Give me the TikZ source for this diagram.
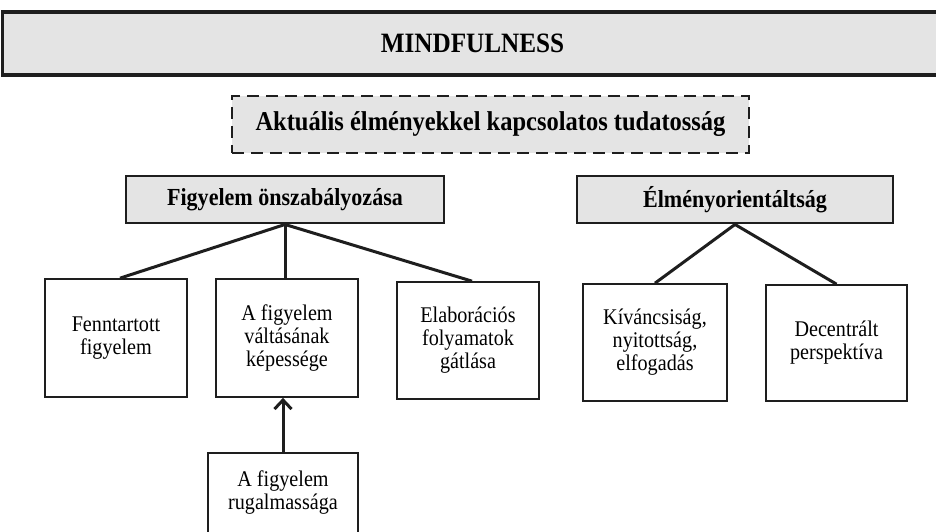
\documentclass[tikz,border=0pt]{standalone}
\usepackage{fontspec}
\setmainfont{Liberation Serif}[FakeStretch=0.9]
\usetikzlibrary{arrows.meta}
\definecolor{boxgray}{RGB}{228,228,228}
\definecolor{inkline}{RGB}{30,30,30}
\begin{document}
\begin{tikzpicture}[x=1pt,y=-1pt,
  plainbox/.style={draw=inkline, line width=1.7pt, fill=white, inner sep=0pt,
    align=center, font=\fontsize{22.4}{23}\selectfont},
  headbox/.style={draw=inkline, line width=2.9pt, fill=boxgray, inner sep=0pt,
    font=\bfseries\fontsize{24.5}{28}\selectfont},
  conn/.style={line width=3pt, draw=inkline}]
\useasboundingbox (0,0) rectangle (936,531);
\fill[white] (0,0) rectangle (936,531);
% banner
\node[headbox, line width=3.6pt, minimum width=940pt, minimum height=63pt,
  font=\bfseries\fontsize{28}{32}\selectfont] (banner) at (472.5,43.5) {MINDFULNESS};
% dashed box
\node[headbox, dash pattern=on 12pt off 7pt, minimum width=517pt, minimum height=57pt,
  font=\bfseries\fontsize{27.2}{31}\selectfont] (aware) at (490.5,124.5)
  {Aktuális élményekkel kapcsolatos tudatosság};
% sub heads
\node[headbox, minimum width=318pt, minimum height=47pt] (figy) at (285,199.5)
  {Figyelem önszabályozása};
\node[headbox, minimum width=316pt, minimum height=47pt] (elmeny) at (735,199.5)
  {Élményorientáltság};
% leaves
\node[plainbox, minimum width=142pt, minimum height=118pt] (fenn) at (116,338)
  {Fenntartott\\figyelem};
\node[plainbox, minimum width=142pt, minimum height=118pt] (valt) at (287,338)
  {A figyelem\\váltásának\\képessége};
\node[plainbox, minimum width=142pt, minimum height=117pt] (elab) at (468,340.5)
  {Elaborációs\\folyamatok\\gátlása};
\node[plainbox, minimum width=144pt, minimum height=117pt] (kiv) at (655,342.5)
  {Kíváncsiság,\\nyitottság,\\elfogadás};
\node[plainbox, minimum width=141pt, minimum height=116pt] (dec) at (836.5,343)
  {Decentrált\\perspektíva};
\node[plainbox, minimum width=150pt, minimum height=80pt] (rug) at (283,493)
  {A figyelem\\rugalmassága};
% connectors
\draw[conn] (figy.south) -- ([xshift=4pt]fenn.north);
\draw[conn] (figy.south) -- (figy.south |- valt.north);
\draw[conn] (figy.south) -- ([xshift=4pt]elab.north);
\draw[conn] (elmeny.south) -- (kiv.north);
\draw[conn] (elmeny.south) -- (dec.north);
\draw[conn, -{Straight Barb[length=9pt,width=17pt]}] (rug.north) -- (rug.north |- valt.south);
\end{tikzpicture}
\end{document}
